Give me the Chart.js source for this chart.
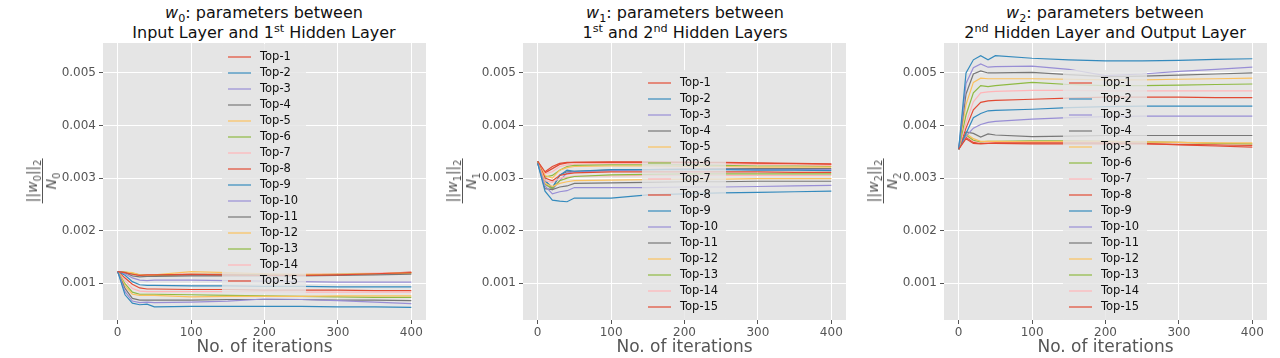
<!DOCTYPE html>
<html>
<head>
<meta charset="utf-8">
<script src="https://cdn.jsdelivr.net/npm/chart.js@4.4.0/dist/chart.umd.min.js"></script>
<style>
  body { margin: 0; width: 1280px; height: 358px; overflow: hidden; position: relative; background: #fff; font-family: "DejaVu Sans", sans-serif; }
  canvas { position: absolute; top: 0; }
  .ttl { position: absolute; top: 3px; width: 420px; text-align: center; font-size: 16px; line-height: 20px; color: #111; }
  .ttl sub, .ttl sup, .ylab sub { font-size: 70%; line-height: 0; }
  .ylab { position: absolute; transform: translate(-50%, -50%) rotate(-90deg); display: flex; flex-direction: column; align-items: center; color: #555; font-size: 14px; line-height: 15px; z-index: 2; }
  .ylab .num { border-bottom: 1px solid #555; padding: 0 1px 2px; }
  .ylab .den { padding-top: 1px; }
</style>
</head>
<body>
<div class="ttl" style="left:54px"><i>w</i><sub>0</sub>: parameters between<br>Input Layer and 1<sup>st</sup> Hidden Layer</div>
<div class="ttl" style="left:475px"><i>w</i><sub>1</sub>: parameters between<br>1<sup>st</sup> and 2<sup>nd</sup> Hidden Layers</div>
<div class="ttl" style="left:895px"><i>w</i><sub>2</sub>: parameters between<br>2<sup>nd</sup> Hidden Layer and Output Layer</div>

<div class="ylab" style="left:42px;top:181px"><span class="num">||<i>w</i><sub>0</sub>||<sub>2</sub></span><span class="den"><i>N</i><sub>0</sub></span></div>
<div class="ylab" style="left:462px;top:181px"><span class="num">||<i>w</i><sub>1</sub>||<sub>2</sub></span><span class="den"><i>N</i><sub>1</sub></span></div>
<div class="ylab" style="left:883px;top:181px"><span class="num">||<i>w</i><sub>2</sub>||<sub>2</sub></span><span class="den"><i>N</i><sub>2</sub></span></div>

<canvas id="c0" width="401" height="358" style="left:33px"></canvas>
<canvas id="c1" width="401" height="358" style="left:453px"></canvas>
<canvas id="c2" width="401" height="358" style="left:874px"></canvas>

<script>
const iterations = [0, 10, 20, 30, 40, 50, 100, 150, 200, 250, 300, 350, 400];
const seriesNames = ['Top-1', 'Top-2', 'Top-3', 'Top-4', 'Top-5', 'Top-6', 'Top-7', 'Top-8',
  'Top-9', 'Top-10', 'Top-11', 'Top-12', 'Top-13', 'Top-14', 'Top-15'];
const xTicks = [0, 100, 200, 300, 400];
const yTicks = [1, 2, 3, 4, 5]; // in units of 0.001

// norms, in units of 0.001, one row per Top-k
const w0Series = [
  [1.22, 1.20, 1.17, 1.15, 1.16, 1.16, 1.17, 1.16, 1.15, 1.15, 1.16, 1.18, 1.20],
  [1.22, 0.78, 0.62, 0.59, 0.60, 0.55, 0.56, 0.56, 0.56, 0.56, 0.55, 0.55, 0.54],
  [1.22, 0.84, 0.66, 0.63, 0.64, 0.63, 0.64, 0.66, 0.70, 0.69, 0.67, 0.64, 0.61],
  [1.22, 0.90, 0.71, 0.68, 0.68, 0.68, 0.68, 0.69, 0.69, 0.69, 0.68, 0.68, 0.67],
  [1.22, 0.95, 0.79, 0.77, 0.77, 0.77, 0.74, 0.75, 0.75, 0.75, 0.76, 0.76, 0.76],
  [1.22, 0.99, 0.83, 0.79, 0.79, 0.79, 0.78, 0.77, 0.76, 0.75, 0.74, 0.73, 0.73],
  [1.22, 1.05, 0.90, 0.85, 0.84, 0.84, 0.84, 0.84, 0.84, 0.83, 0.83, 0.83, 0.83],
  [1.22, 1.10, 0.98, 0.91, 0.89, 0.89, 0.88, 0.88, 0.87, 0.87, 0.87, 0.86, 0.86],
  [1.22, 1.15, 1.03, 0.97, 0.96, 0.96, 0.95, 0.95, 0.94, 0.94, 0.93, 0.93, 0.93],
  [1.22, 1.18, 1.10, 1.06, 1.05, 1.06, 1.06, 1.05, 1.04, 1.03, 1.02, 1.02, 1.02],
  [1.22, 1.20, 1.14, 1.12, 1.13, 1.13, 1.14, 1.14, 1.14, 1.14, 1.15, 1.16, 1.17],
  [1.22, 1.21, 1.20, 1.16, 1.15, 1.16, 1.22, 1.20, 1.18, 1.17, 1.17, 1.18, 1.20],
  [1.22, 1.21, 1.19, 1.16, 1.15, 1.15, 1.17, 1.17, 1.16, 1.16, 1.17, 1.18, 1.19],
  [1.22, 1.21, 1.19, 1.15, 1.16, 1.16, 1.18, 1.18, 1.17, 1.17, 1.18, 1.19, 1.20],
  [1.22, 1.20, 1.18, 1.15, 1.14, 1.15, 1.16, 1.16, 1.15, 1.15, 1.16, 1.18, 1.21]
];

const w1Series = [
  [3.32, 3.12, 3.22, 3.28, 3.30, 3.30, 3.30, 3.30, 3.30, 3.30, 3.29, 3.28, 3.27],
  [3.28, 2.75, 2.58, 2.56, 2.55, 2.62, 2.62, 2.68, 2.70, 2.72, 2.73, 2.74, 2.75],
  [3.28, 2.85, 2.70, 2.74, 2.76, 2.82, 2.82, 2.82, 2.83, 2.83, 2.84, 2.85, 2.86],
  [3.29, 2.80, 2.78, 2.83, 2.85, 2.90, 2.91, 2.92, 2.93, 2.93, 2.94, 2.94, 2.94],
  [3.29, 2.90, 2.84, 2.90, 2.93, 2.95, 2.96, 2.97, 2.98, 2.98, 2.99, 2.99, 2.99],
  [3.30, 2.88, 2.80, 2.95, 3.00, 3.03, 3.06, 3.07, 3.08, 3.08, 3.08, 3.08, 3.08],
  [3.30, 2.95, 2.92, 3.00, 3.02, 3.04, 3.04, 3.05, 3.05, 3.05, 3.05, 3.05, 3.05],
  [3.31, 3.00, 2.95, 3.05, 3.08, 3.10, 3.12, 3.12, 3.12, 3.12, 3.12, 3.11, 3.11],
  [3.31, 2.95, 2.82, 3.05, 3.15, 3.13, 3.16, 3.16, 3.16, 3.16, 3.15, 3.15, 3.14],
  [3.31, 2.90, 2.78, 2.95, 3.10, 3.12, 3.14, 3.16, 3.17, 3.17, 3.16, 3.16, 3.16],
  [3.31, 2.95, 2.80, 3.06, 3.12, 3.13, 3.15, 3.16, 3.17, 3.18, 3.18, 3.18, 3.18],
  [3.31, 3.05, 3.00, 3.15, 3.20, 3.22, 3.23, 3.23, 3.22, 3.22, 3.21, 3.21, 3.21],
  [3.32, 3.02, 3.05, 3.15, 3.22, 3.24, 3.25, 3.25, 3.25, 3.24, 3.23, 3.23, 3.22],
  [3.32, 3.08, 3.12, 3.22, 3.25, 3.27, 3.28, 3.28, 3.28, 3.27, 3.26, 3.25, 3.24],
  [3.32, 3.10, 3.18, 3.26, 3.29, 3.30, 3.31, 3.31, 3.30, 3.29, 3.28, 3.27, 3.26]
];

const w2Series = [
  [3.55, 3.75, 3.66, 3.65, 3.66, 3.67, 3.67, 3.67, 3.67, 3.66, 3.63, 3.61, 3.59],
  [3.55, 5.00, 5.25, 5.33, 5.25, 5.33, 5.28, 5.25, 5.23, 5.23, 5.24, 5.26, 5.27],
  [3.55, 4.80, 5.10, 5.17, 5.11, 5.12, 5.13, 5.07, 4.95, 4.98, 5.03, 5.07, 5.11],
  [3.55, 4.60, 4.98, 5.04, 5.00, 5.00, 5.01, 4.97, 4.93, 4.94, 4.96, 4.98, 5.00],
  [3.55, 4.40, 4.82, 4.90, 4.89, 4.89, 4.89, 4.88, 4.87, 4.87, 4.88, 4.89, 4.90],
  [3.55, 4.20, 4.62, 4.76, 4.74, 4.76, 4.82, 4.78, 4.76, 4.76, 4.77, 4.78, 4.79],
  [3.55, 4.05, 4.45, 4.62, 4.64, 4.65, 4.67, 4.67, 4.66, 4.66, 4.66, 4.66, 4.66],
  [3.55, 3.95, 4.30, 4.44, 4.47, 4.48, 4.50, 4.52, 4.54, 4.54, 4.54, 4.53, 4.53],
  [3.55, 3.85, 4.15, 4.23, 4.28, 4.29, 4.31, 4.34, 4.36, 4.37, 4.37, 4.37, 4.37],
  [3.55, 3.80, 3.95, 4.02, 4.06, 4.08, 4.12, 4.15, 4.17, 4.18, 4.18, 4.18, 4.18],
  [3.55, 3.88, 3.85, 3.78, 3.84, 3.82, 3.79, 3.80, 3.81, 3.81, 3.81, 3.81, 3.81],
  [3.55, 3.85, 3.75, 3.70, 3.70, 3.70, 3.69, 3.70, 3.70, 3.69, 3.68, 3.67, 3.67],
  [3.55, 3.82, 3.72, 3.69, 3.70, 3.70, 3.71, 3.71, 3.70, 3.69, 3.68, 3.66, 3.65],
  [3.55, 3.80, 3.70, 3.68, 3.68, 3.69, 3.70, 3.70, 3.70, 3.69, 3.68, 3.66, 3.64],
  [3.55, 3.78, 3.68, 3.66, 3.66, 3.66, 3.65, 3.65, 3.65, 3.65, 3.64, 3.63, 3.62]
];

const palette = ['#E24A33', '#348ABD', '#988ED5', '#777777', '#FBC15E', '#8EBA42', '#FFB5B8'];
const FONT = '"DejaVu Sans", sans-serif';

// legend drawn inside the plot area, like matplotlib's loc='best'
const insideLegend = {
  id: 'insideLegend',
  afterDatasetsDraw(chart, args, opts) {
    const { ctx, chartArea } = chart;
    const dsets = chart.data.datasets;
    const x = chartArea.left + opts.left;
    const y = chartArea.top + opts.top;
    const h = opts.pad * 2 + opts.rowH * dsets.length;
    ctx.save();
    ctx.fillStyle = 'rgba(229,229,229,0.8)';
    ctx.beginPath();
    ctx.roundRect(x, y, opts.width, h, 3);
    ctx.fill();
    ctx.font = '11.5px ' + FONT;
    ctx.textBaseline = 'middle';
    dsets.forEach((ds, i) => {
      const cy = y + opts.pad + opts.rowH * (i + 0.5);
      ctx.strokeStyle = ds.borderColor;
      ctx.lineWidth = ds.borderWidth;
      ctx.beginPath();
      ctx.moveTo(x + 6, cy);
      ctx.lineTo(x + 29, cy);
      ctx.stroke();
      ctx.fillStyle = '#111';
      ctx.fillText(ds.label, x + 38, cy + 0.5);
    });
    ctx.restore();
  }
};

function makePanel(id, series, legendTop) {
  const datasets = series.map((vals, i) => ({
    label: seriesNames[i],
    data: vals.map((v, j) => ({ x: iterations[j], y: v })),
    borderColor: palette[i % palette.length],
    borderWidth: 1.2,
    pointRadius: 0,
    tension: 0,
    fill: false
  }));
  return new Chart(document.getElementById(id), {
    type: 'line',
    data: { datasets },
    options: {
      responsive: false,
      animation: false,
      events: [],
      layout: { padding: { top: 43, right: 8, left: 0, bottom: 0 } },
      plugins: {
        legend: { display: false },
        tooltip: { enabled: false },
        insideLegend: { left: 119, top: legendTop, width: 84, pad: 5, rowH: 16 }
      },
      scales: {
        x: {
          type: 'linear',
          min: -20,
          max: 420,
          afterBuildTicks: s => { s.ticks = xTicks.map(v => ({ value: v })); },
          afterFit: s => { s.height = 38; },
          grid: { color: '#ffffff', lineWidth: 1, tickColor: '#555', tickLength: 4 },
          border: { display: false },
          ticks: { color: '#555', font: { size: 12, family: FONT }, padding: 2, maxRotation: 0 },
          title: { display: true, text: 'No. of iterations', color: '#555', font: { size: 17, family: FONT }, padding: 0 }
        },
        y: {
          min: 0.3,
          max: 5.57,
          afterBuildTicks: s => { s.ticks = yTicks.map(v => ({ value: v })); },
          afterFit: s => { s.width = 70; },
          grid: { color: '#ffffff', lineWidth: 1, tickColor: '#555', tickLength: 4 },
          border: { display: false },
          ticks: {
            color: '#555',
            font: { size: 12, family: FONT },
            padding: 3,
            callback: v => (v / 1000).toFixed(3)
          }
        }
      }
    },
    plugins: [insideLegend, {
      id: 'axesBg',
      beforeDraw(chart) {
        const { ctx, chartArea: a } = chart;
        ctx.save();
        ctx.fillStyle = '#E5E5E5';
        ctx.fillRect(a.left, a.top, a.right - a.left, a.bottom - a.top);
        ctx.restore();
      }
    }]
  });
}

makePanel('c0', w0Series, 1);
makePanel('c1', w1Series, 27);
makePanel('c2', w2Series, 27);
</script>
</body>
</html>
